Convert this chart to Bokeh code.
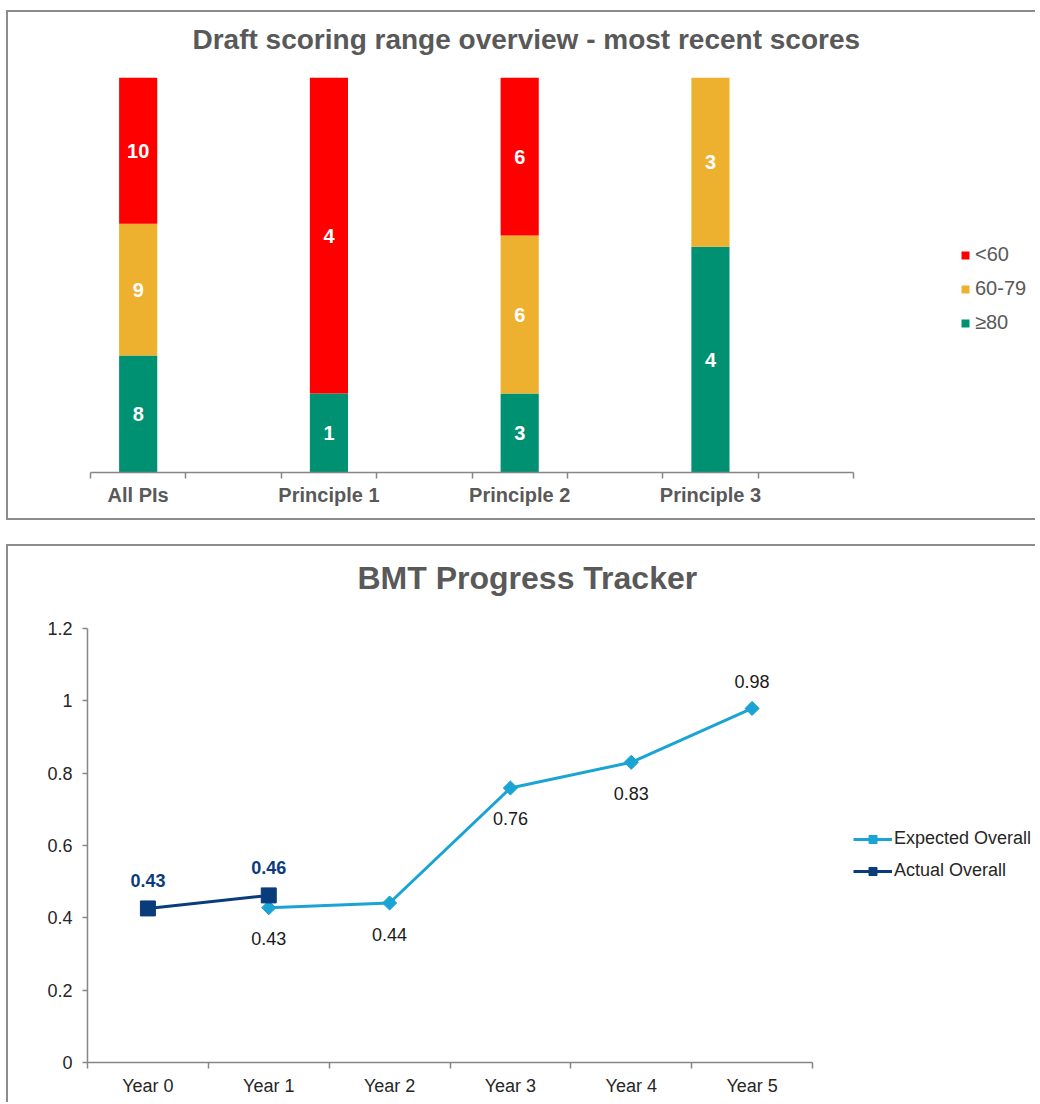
from bokeh.plotting import figure
from bokeh.models import (ColumnDataSource, FixedTicker, Legend, LegendItem, Title, Range1d)
from bokeh.layouts import column
from bokeh.embed import file_html
from bokeh.resources import INLINE
from bokeh.core.properties import value

# ---------------- data: top chart ----------------
CATEGORIES = ["All PIs", "Principle 1", "Principle 2", "Principle 3"]
BANDS = ["≥80", "60-79", "<60"]
COUNT_GE80 = [8, 1, 3, 4]
COUNT_60_79 = [9, 0, 6, 3]
COUNT_LT60 = [10, 4, 6, 0]

# ---------------- data: bottom chart ----------------
YEARS = ["Year 0", "Year 1", "Year 2", "Year 3", "Year 4", "Year 5"]
EXPECTED_YEARS = ["Year 1", "Year 2", "Year 3", "Year 4", "Year 5"]
EXPECTED = [0.428, 0.441, 0.759, 0.830, 0.979]
ACTUAL_YEARS = ["Year 0", "Year 1"]
ACTUAL = [0.426, 0.462]
Y_TICKS = [0, 0.2, 0.4, 0.6, 0.8, 1.0, 1.2]
Y_TICK_LABELS = ["0", "0.2", "0.4", "0.6", "0.8", "1", "1.2"]

FONT = value("Liberation Sans")
FONT_NAME = "Liberation Sans"
GRAY_TXT = "#595959"
AXIS_GRAY = "#868686"
RED, YELLOW, GREEN = "#FF0000", "#EDB12F", "#009172"
LIGHT_BLUE, NAVY = "#1AA4D4", "#0A3C7C"
PANEL_BORDER = "2px solid #8C8C8C"

# layout (page pixels); both frames share the same left/right edges (column aligns them)
FIG_W = 1029
CANVAS_L = 8
FRAME_L, FRAME_R = 87, 1033
MB_L, MB_R = FRAME_L - CANVAS_L, CANVAS_L + FIG_W - FRAME_R
AX1_L, AX1_R = 90, 853     # visible category axis, top chart
AX2_L, AX2_R = 87, 812     # visible category axis, bottom chart


def frame_range(n_units, ax_l, ax_r):
    unit = (ax_r - ax_l) / n_units
    return Range1d((FRAME_L - ax_l) / unit, n_units + (FRAME_R - ax_r) / unit)


def spacer(standoff):
    return Title(text=" ", text_font_size="2px", standoff=standoff)


# ================= top chart =================
n_cat = len(CATEGORIES)
x_pos = [2 * i + 0.5 for i in range(n_cat)]
totals = [a + b + c for a, b, c in zip(COUNT_GE80, COUNT_60_79, COUNT_LT60)]
src = ColumnDataSource(dict(
    x=x_pos,
    ge80=[c / t for c, t in zip(COUNT_GE80, totals)],
    mid=[c / t for c, t in zip(COUNT_60_79, totals)],
    lt60=[c / t for c, t in zip(COUNT_LT60, totals)],
))

p1 = figure(width=FIG_W, height=510, x_range=frame_range(2 * n_cat, AX1_L, AX1_R),
            y_range=Range1d(0, 1), output_backend="svg", toolbar_location=None,
            min_border_left=MB_L, min_border_right=MB_R, min_border_top=65,
            min_border_bottom=50, y_axis_location=None)
p1.styles = {"border-top": PANEL_BORDER, "border-left": PANEL_BORDER,
             "border-bottom": PANEL_BORDER, "margin": "10px 0 0 6px"}
rs = p1.vbar_stack(["ge80", "mid", "lt60"], x="x", width=0.4,
                   color=[GREEN, YELLOW, RED], line_color=None, source=src)

lab_x, lab_y, lab_t = [], [], []
for i in range(n_cat):
    bottom = 0.0
    for counts in (COUNT_GE80, COUNT_60_79, COUNT_LT60):
        frac = counts[i] / totals[i]
        if counts[i] > 0:
            lab_x.append(x_pos[i])
            lab_y.append(bottom + frac / 2)
            lab_t.append(str(counts[i]))
        bottom += frac
p1.text(x=lab_x, y=lab_y, text=lab_t, text_align="center", text_baseline="middle",
        text_color="white", text_font=FONT, text_font_style="bold", text_font_size="20px")

p1.add_layout(spacer(14), "above")
p1.add_layout(Title(text="Draft scoring range overview - most recent scores", align="left",
                    offset=192 - FRAME_L, standoff=10, text_font=FONT_NAME,
                    text_font_size="28px", text_font_style="bold", text_color=GRAY_TXT),
              "above")

ax = p1.xaxis[0]
ax.bounds = (0, 2 * n_cat)
ax.ticker = FixedTicker(ticks=x_pos, minor_ticks=list(range(2 * n_cat + 1)))
ax.major_label_overrides = {x: c for x, c in zip(x_pos, CATEGORIES)}
ax.major_tick_line_color = None
ax.major_tick_in = 0
ax.major_tick_out = 6
ax.minor_tick_in = 0
ax.minor_tick_out = 6
ax.minor_tick_line_color = AXIS_GRAY
ax.minor_tick_line_width = 1.5
ax.axis_line_color = AXIS_GRAY
ax.axis_line_width = 1.5
ax.major_label_text_font = FONT_NAME
ax.major_label_text_font_size = "20px"
ax.major_label_text_font_style = "bold"
ax.major_label_text_color = GRAY_TXT
ax.major_label_standoff = 5
p1.grid.visible = False
p1.outline_line_color = None

leg1 = Legend(items=[LegendItem(label=BANDS[2], renderers=[rs[2]]),
                     LegendItem(label=BANDS[1], renderers=[rs[1]]),
                     LegendItem(label=BANDS[0], renderers=[rs[0]])],
              location=(960 - FRAME_L, 138), glyph_width=10, glyph_height=10,
              label_standoff=5, padding=0, margin=0, spacing=11, border_line_color=None,
              background_fill_alpha=0, label_text_font=FONT_NAME,
              label_text_font_size="20px", label_text_color=GRAY_TXT)
p1.add_layout(leg1)

# ================= bottom chart =================
n_years = len(YEARS)
yx = {y: i + 0.5 for i, y in enumerate(YEARS)}
xe = [yx[y] for y in EXPECTED_YEARS]
xa = [yx[y] for y in ACTUAL_YEARS]

p2 = figure(width=FIG_W, height=558, x_range=frame_range(n_years, AX2_L, AX2_R),
            y_range=Range1d(0, 1.2), output_backend="svg", toolbar_location=None,
            min_border_left=MB_L, min_border_right=MB_R, min_border_top=82,
            min_border_bottom=42)
p2.styles = {"border-top": PANEL_BORDER, "border-left": PANEL_BORDER,
             "margin": "0 0 0 6px"}

exp_line = p2.line(xe, EXPECTED, line_color=LIGHT_BLUE, line_width=3)
exp_mk = p2.scatter(xe, EXPECTED, marker="square", angle=0.7854, size=10,
                    fill_color=LIGHT_BLUE, line_color=LIGHT_BLUE)
act_line = p2.line(xa, ACTUAL, line_color=NAVY, line_width=3)
act_mk = p2.scatter(xa, ACTUAL, marker="square", size=15, fill_color=NAVY, line_color=NAVY)

EXP_LABEL_SIDE = ["below", "below", "below", "below", "above"]
p2.text(x=xe, y=EXPECTED, text=[f"{v:.2f}" for v in EXPECTED],
        y_offset=[31 if s == "below" else -27 for s in EXP_LABEL_SIDE],
        text_align="center", text_baseline="middle", text_color="#1A1A1A",
        text_font=FONT, text_font_size="18px")
p2.text(x=xa, y=ACTUAL, text=[f"{v:.2f}" for v in ACTUAL], y_offset=-28,
        text_align="center", text_baseline="middle", text_color=NAVY,
        text_font=FONT, text_font_style="bold", text_font_size="18px")

p2.add_layout(spacer(24), "above")
p2.add_layout(Title(text="BMT Progress Tracker", align="left", offset=357 - FRAME_L,
                    standoff=10, text_font=FONT_NAME, text_font_size="32px",
                    text_font_style="bold", text_color=GRAY_TXT), "above")

bx = p2.xaxis[0]
bx.bounds = (0, n_years)
bx.ticker = FixedTicker(ticks=[yx[y] for y in YEARS], minor_ticks=list(range(n_years + 1)))
bx.major_label_overrides = {yx[y]: y for y in YEARS}
bx.major_tick_line_color = None
bx.major_tick_in = 0
bx.major_tick_out = 6
bx.minor_tick_in = 0
bx.minor_tick_out = 6
bx.minor_tick_line_color = AXIS_GRAY
bx.minor_tick_line_width = 1.5
bx.axis_line_color = AXIS_GRAY
bx.axis_line_width = 1.5
bx.major_label_text_font = FONT_NAME
bx.major_label_text_font_size = "18px"
bx.major_label_text_color = "#262626"
bx.major_label_standoff = 7

by = p2.yaxis[0]
by.ticker = FixedTicker(ticks=Y_TICKS)
by.major_label_overrides = {t: l for t, l in zip(Y_TICKS, Y_TICK_LABELS)}
by.major_tick_in = 0
by.major_tick_out = 5
by.major_tick_line_color = AXIS_GRAY
by.major_tick_line_width = 1.5
by.minor_tick_line_color = None
by.axis_line_color = AXIS_GRAY
by.axis_line_width = 1.5
by.major_label_text_font = FONT_NAME
by.major_label_text_font_size = "18px"
by.major_label_text_color = "#262626"
by.major_label_standoff = 10
p2.grid.visible = False
p2.outline_line_color = None

leg2 = Legend(items=[LegendItem(label="Expected Overall", renderers=[exp_line, exp_mk]),
                     LegendItem(label="Actual Overall", renderers=[act_line, act_mk])],
              location=(853 - FRAME_L, 181), glyph_width=39, glyph_height=20,
              label_standoff=2, padding=0, margin=0, spacing=11, border_line_color=None,
              background_fill_alpha=0, label_text_font=FONT_NAME,
              label_text_font_size="18px", label_text_color="#262626")
p2.add_layout(leg2)

layout = column(p1, p2, spacing=24)
open("out.html", "w").write(file_html(layout, INLINE))
